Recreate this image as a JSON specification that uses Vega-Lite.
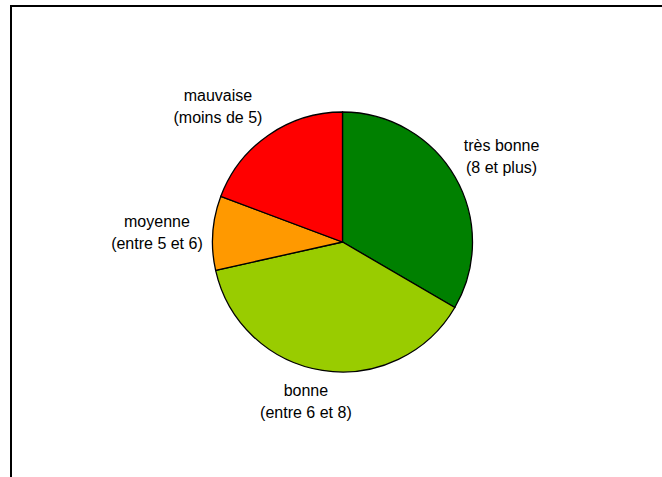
{
  "$schema": "https://vega.github.io/schema/vega-lite/v6.json",
  "width": 663,
  "height": 472,
  "padding": {"left": 11, "top": 6, "right": 0, "bottom": 0},
  "background": "white",
  "view": {"stroke": "black", "strokeWidth": 2, "fill": "white"},
  "data": {
    "values": [
      {"categorie": "très bonne", "label": "très bonne\n(8 et plus)", "part": 33.4, "ordre": 1},
      {"categorie": "bonne", "label": "bonne\n(entre 6 et 8)", "part": 38.1, "ordre": 2},
      {"categorie": "moyenne", "label": "moyenne\n(entre 5 et 6)", "part": 9.2, "ordre": 3},
      {"categorie": "mauvaise", "label": "mauvaise\n(moins de 5)", "part": 19.3, "ordre": 4}
    ]
  },
  "encoding": {
    "theta": {"field": "part", "type": "quantitative", "stack": true},
    "order": {"field": "ordre", "type": "quantitative"}
  },
  "layer": [
    {
      "mark": {"type": "arc", "radius": 130, "stroke": "black", "strokeWidth": 1.3},
      "encoding": {
        "color": {
          "field": "categorie",
          "type": "nominal",
          "scale": {
            "domain": ["très bonne", "bonne", "moyenne", "mauvaise"],
            "range": ["#008000", "#99CC00", "#FF9900", "#FF0000"]
          },
          "legend": null
        }
      }
    },
    {
      "mark": {"type": "text", "radius": 180, "dx": 3, "dy": -6, "font": "Liberation Sans", "fontSize": 16, "lineBreak": "\n", "lineHeight": 22, "align": "center", "baseline": "middle", "color": "#000"},
      "encoding": {"text": {"condition": {"test": "datum.categorie === 'très bonne'", "field": "label"}, "value": ""}}
    },
    {
      "mark": {"type": "text", "radius": 180, "dx": -9, "dy": -29, "font": "Liberation Sans", "fontSize": 16, "lineBreak": "\n", "lineHeight": 22, "align": "center", "baseline": "middle", "color": "#000"},
      "encoding": {"text": {"condition": {"test": "datum.categorie === 'bonne'", "field": "label"}, "value": ""}}
    },
    {
      "mark": {"type": "text", "radius": 180, "dx": -6, "dy": -8, "font": "Liberation Sans", "fontSize": 16, "lineBreak": "\n", "lineHeight": 22, "align": "center", "baseline": "middle", "color": "#000"},
      "encoding": {"text": {"condition": {"test": "datum.categorie === 'moyenne'", "field": "label"}, "value": ""}}
    },
    {
      "mark": {"type": "text", "radius": 180, "dx": -22, "dy": 2, "font": "Liberation Sans", "fontSize": 16, "lineBreak": "\n", "lineHeight": 22, "align": "center", "baseline": "middle", "color": "#000"},
      "encoding": {"text": {"condition": {"test": "datum.categorie === 'mauvaise'", "field": "label"}, "value": ""}}
    }
  ]
}
